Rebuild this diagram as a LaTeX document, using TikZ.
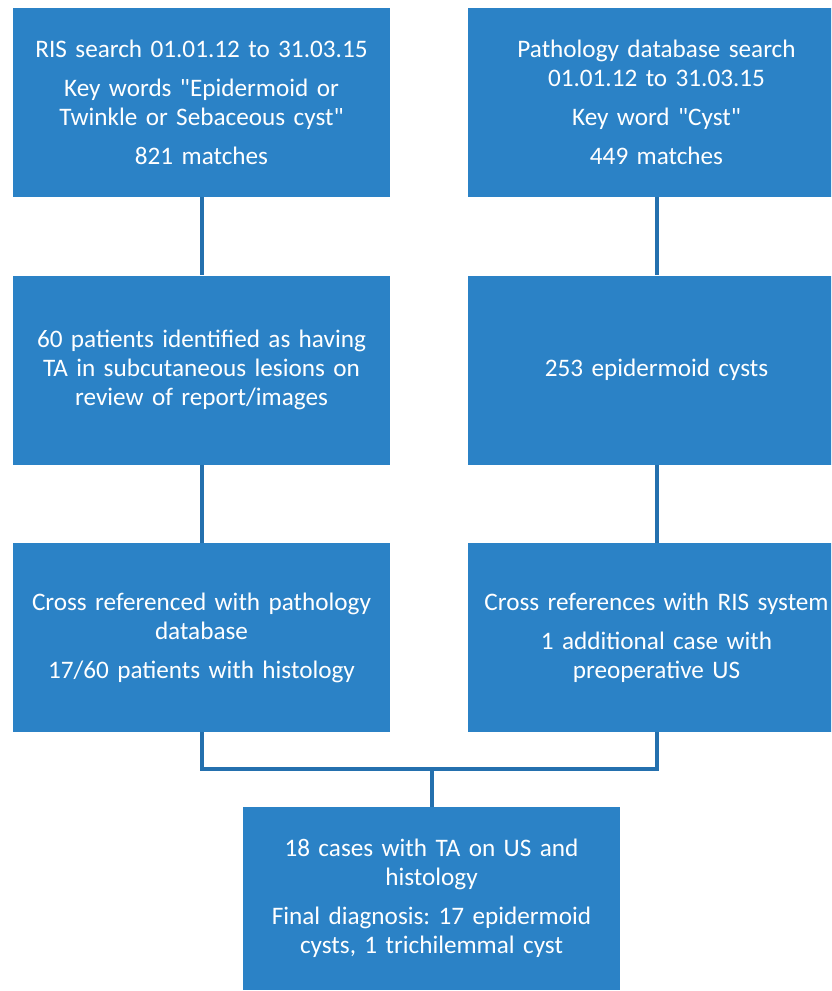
\documentclass[tikz,border=0pt]{standalone}
\usepackage{fontspec}
\setmainfont{Carlito}
\newfontfamily\dqfont{Carlito}[Ligatures=ResetAll]
\definecolor{boxblue}{HTML}{2B82C6}
\definecolor{linkblue}{HTML}{2470AE}
\newcommand{\dq}{{\dqfont\char34}}
\begin{document}
\frenchspacing
\begin{tikzpicture}[x=1pt,y=-1pt,
  flowbox/.style={rectangle, fill=boxblue, draw=none, text=white,
    minimum width=377pt, minimum height=189pt, text width=370pt, align=center,
    inner sep=0pt, font=\fontsize{25.2}{29}\selectfont},
  link/.style={draw=linkblue, line width=4pt}]
\useasboundingbox (0,0) rectangle (831,991);
\clip (0,0) rectangle (831,991);
\node[flowbox] (l1) at (201.5,102.5) {RIS search 01.01.12 to 31.03.15\\[10pt]Key words \dq Epidermoid or\\Twinkle or Sebaceous cyst\dq\\[10pt]821 matches};
\node[flowbox] (r1) at (656.5,102.5) {Pathology database search\\01.01.12 to 31.03.15\\[10pt]Key word \dq Cyst\dq\\[10pt]449 matches};
\node[flowbox] (l2) at (201.5,370) {60 patients identified as having\\TA in subcutaneous lesions on\\review of report/images};
\node[flowbox] (r2) at (656.5,370) {253 epidermoid cysts};
\node[flowbox] (l3) at (201.5,637.5) {Cross referenced with pathology\\database\\[10pt]17/60 patients with histology};
\node[flowbox] (r3) at (656.5,637.5) {Cross references with RIS system\\[10pt]1 additional case with\\preoperative US};
\node[flowbox, minimum height=183pt] (bot) at (431.5,898.5) {18 cases with TA on US and\\histology\\[10pt]Final diagnosis: 17 epidermoid\\cysts, 1 trichilemmal cyst};
\coordinate (j) at (431.5,768.5);
\draw[link] (l1.south) -- (l2.north);
\draw[link] (l2.south) -- (l3.north);
\draw[link] (r1.south) -- (r2.north);
\draw[link] (r2.south) -- (r3.north);
\draw[link] (l3.south) |- (j) -- (bot.north);
\draw[link] (r3.south) |- (j);
\end{tikzpicture}
\end{document}
